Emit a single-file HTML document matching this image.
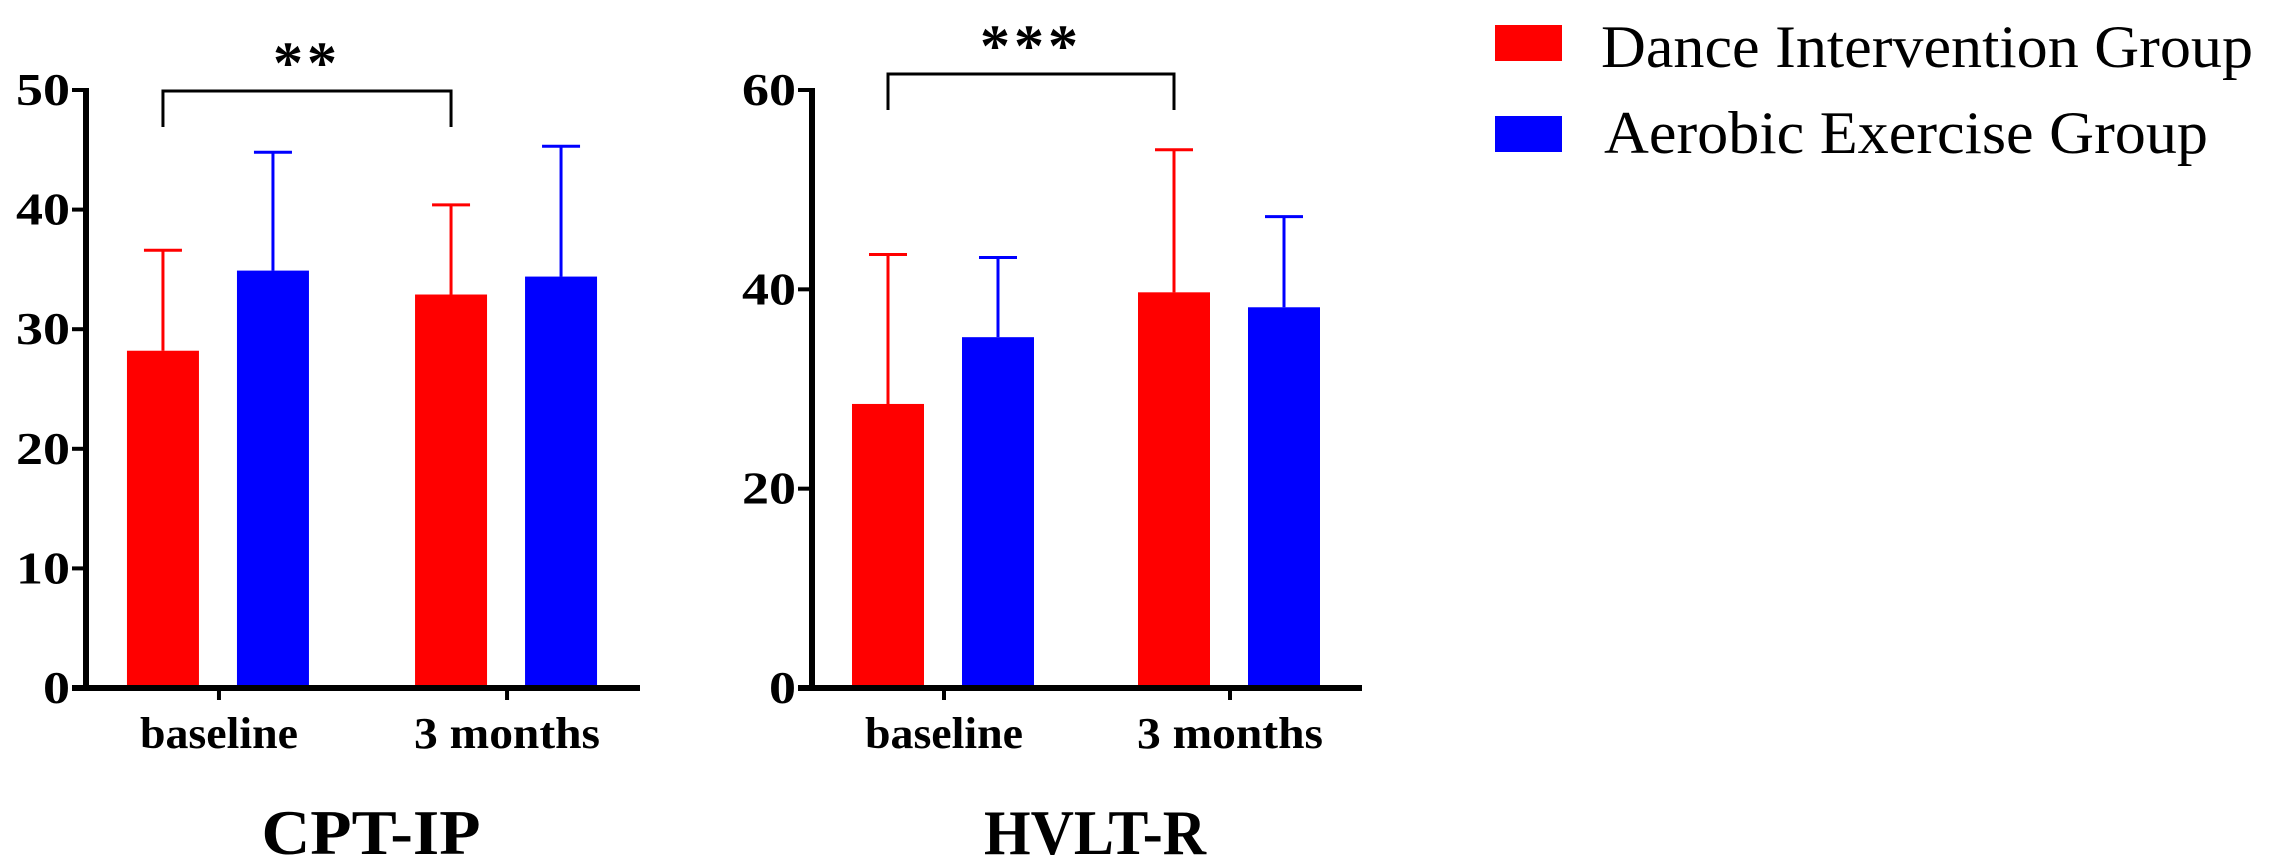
<!DOCTYPE html>
<html><head><meta charset="utf-8"><style>
html,body{margin:0;padding:0;background:#fff;}
svg{display:block;}
text{font-family:"Liberation Serif",serif;}
</style></head>
<body>
<svg id="fig" width="2276" height="867" viewBox="0 0 2276 867" xmlns="http://www.w3.org/2000/svg">
  <g>
    <rect x="1495" y="25" width="67" height="36" fill="#ff0000"/>
    <text x="1601" y="67" font-size="60" textLength="652" lengthAdjust="spacingAndGlyphs">Dance Intervention Group</text>
    <rect x="1495" y="116" width="67" height="36" fill="#0000ff"/>
    <text x="1604" y="153" font-size="60" textLength="604" lengthAdjust="spacingAndGlyphs">Aerobic Exercise Group</text>
  </g>
</svg>
<script>
const categories = ["baseline", "3 months"];
const cptDance = [28.2, 32.9];
const cptDanceErr = [8.4, 7.5];
const cptAerobic = [34.9, 34.4];
const cptAerobicErr = [9.9, 10.9];
const cptTicks = [0, 10, 20, 30, 40, 50];
const hvltDance = [28.5, 39.7];
const hvltDanceErr = [15.0, 14.3];
const hvltAerobic = [35.2, 38.2];
const hvltAerobicErr = [8.0, 9.1];
const hvltTicks = [0, 20, 40, 60];

const NS = "http://www.w3.org/2000/svg";
const svg = document.getElementById("fig");
function mk(tag, attrs, parent) {
  const e = document.createElementNS(NS, tag);
  for (const k in attrs) e.setAttribute(k, attrs[k]);
  (parent || svg).appendChild(e);
  return e;
}

function panel(cfg) {
  const g = mk("g", {});
  
  
  const ymax = cfg.ticks[cfg.ticks.length - 1];
  const y = v => cfg.y0 - (v / ymax) * (cfg.y0 - cfg.yTop);
  const w = cfg.xEnd - cfg.x0;
  const catCenter = i => cfg.x0 + w * (0.24 + 0.52 * i);
  const barW = 72, offs = [-56, 54];
  const series = [
    {vals: cfg.dance, errs: cfg.danceErr, color: "#ff0000", n: "dance"},
    {vals: cfg.aerobic, errs: cfg.aerobicErr, color: "#0000ff", n: "aerobic"}
  ];
  series.forEach((s, si) => {
    categories.forEach((c, i) => {
      const cx = catCenter(i) + offs[si];
      const top = y(s.vals[i] + s.errs[i]);
      const ln = mk("line", {x1: cx, x2: cx, y1: y(s.vals[i]), y2: top, stroke: s.color, "stroke-width": 3}, g);
      
      
      const cap = mk("line", {x1: cx - 19, x2: cx + 19, y1: top, y2: top, stroke: s.color, "stroke-width": 3}, g);
      
      
      const r = mk("rect", {x: cx - barW / 2, y: y(s.vals[i]), width: barW, height: cfg.y0 - y(s.vals[i]), fill: s.color}, g);
      
      
    });
  });
  const ya = mk("line", {x1: cfg.x0, x2: cfg.x0, y1: cfg.yTop - 2, y2: cfg.y0 + 3, stroke: "#000", "stroke-width": 6}, g);
  
  
  const xa = mk("line", {x1: cfg.x0 - 14, x2: cfg.xEnd, y1: cfg.y0, y2: cfg.y0, stroke: "#000", "stroke-width": 6}, g);
  
  
  cfg.ticks.forEach(t => {
    const tk = mk("line", {x1: cfg.x0 - 14, x2: cfg.x0, y1: y(t), y2: y(t), stroke: "#000", "stroke-width": 4}, g);
    
    
    const s = String(t);
    const tl = mk("text", {x: cfg.x0 - 16, y: y(t) + 15, "font-size": 46, "font-weight": "bold", "text-anchor": "end", textLength: 27 * s.length, lengthAdjust: "spacingAndGlyphs"}, g);
    tl.textContent = s;
    
    
  });
  const catLens = [158, 186];
  categories.forEach((c, i) => {
    const cx = catCenter(i);
    const tk = mk("line", {x1: cx, x2: cx, y1: cfg.y0, y2: cfg.y0 + 12, stroke: "#000", "stroke-width": 4}, g);
    
    
    const tl = mk("text", {x: cx, y: cfg.y0 + 60, "font-size": 44, "font-weight": "bold", "text-anchor": "middle", textLength: catLens[i], lengthAdjust: "spacingAndGlyphs"}, g);
    tl.textContent = c;
    
    
  });
  const title = mk("text", {x: (cfg.x0 + cfg.xEnd) / 2 + 8, y: 854, "font-size": 64, "font-weight": "bold", "text-anchor": "middle", textLength: cfg.titleLen, lengthAdjust: "spacingAndGlyphs"}, g);
  title.textContent = cfg.title;
  
  
  const b1 = catCenter(0) + offs[0], b2 = catCenter(1) + offs[0];
  const br = mk("path", {d: `M${b1},${cfg.brBot} V${cfg.brTop} H${b2} V${cfg.brBot}`, fill: "none", stroke: "#000", "stroke-width": 3}, g);
  
  
  const st = mk("text", {x: (b1 + b2) / 2, y: cfg.brTop - 8, "font-size": 60, "font-weight": "bold", "text-anchor": "middle", "letter-spacing": "4"}, g);
  st.textContent = cfg.stars;
  
  
}

panel({name: "cpt-ip", title: "CPT-IP", titleLen: 219, x0: 86, xEnd: 640, y0: 688, yTop: 90, ticks: cptTicks,
  dance: cptDance, danceErr: cptDanceErr, aerobic: cptAerobic, aerobicErr: cptAerobicErr,
  brTop: 91, brBot: 127, stars: "**"});
panel({name: "hvlt-r", title: "HVLT-R", titleLen: 222, x0: 812, xEnd: 1362, y0: 688, yTop: 90, ticks: hvltTicks,
  dance: hvltDance, danceErr: hvltDanceErr, aerobic: hvltAerobic, aerobicErr: hvltAerobicErr,
  brTop: 74, brBot: 110, stars: "***"});
</script>
</body></html>
